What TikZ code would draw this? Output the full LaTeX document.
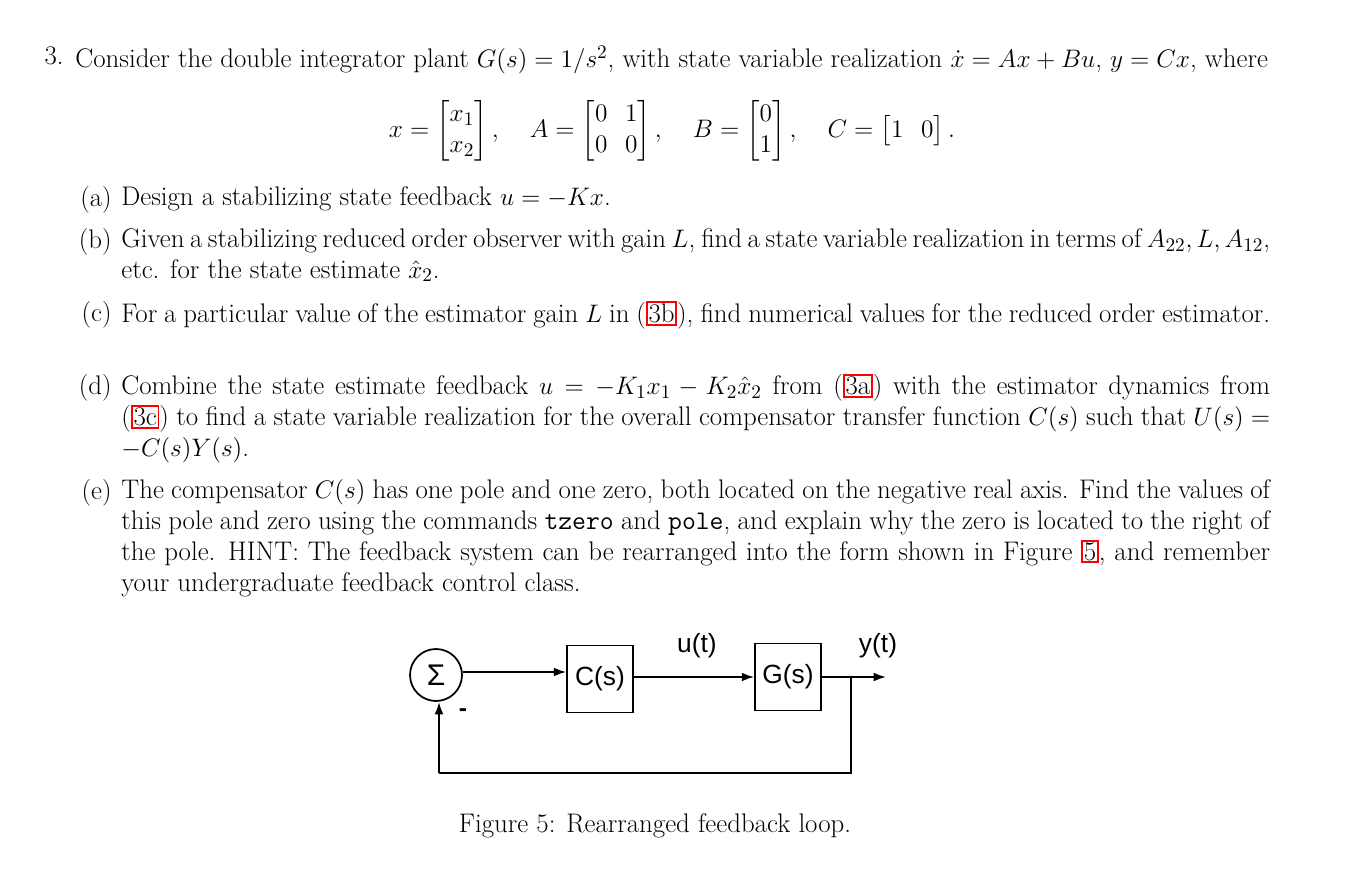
\documentclass[tikz,border=0pt]{standalone}
\usepackage{amsmath}
\usepackage{fontspec}
\usetikzlibrary{arrows.meta}
\newfontfamily\dsans{Liberation Sans}
\newcommand\rb[1]{{\setlength{\fboxsep}{0.5pt}\setlength{\fboxrule}{1pt}\fcolorbox{red}{white}{#1}}}
\begin{document}
\begin{tikzpicture}[x=0.02cm,y=-0.02cm,
  txt/.style={anchor=north west,inner sep=0,align=justify,font=\fontsize{15.3}{17.6}\selectfont},
  lab/.style={anchor=north east,inner sep=0,font=\fontsize{15.3}{17.6}\selectfont},
  blk/.style={draw,line width=1pt,minimum width=1.32cm,minimum height=1.34cm,font=\dsans\fontsize{15}{18}\selectfont,inner sep=0},
  arr/.style={line width=1pt,-{Latex[length=7pt,width=5pt]}},
  ln/.style={line width=1pt}]
\useasboundingbox (0,0) rectangle (1352,881);
\node[lab] (n3) at (64,46) {3.};
\node[txt,text width=23.9cm] (p0) at (75,46) {Consider the double integrator plant $G(s)=1/s^2$, with state variable realization $\dot x = Ax+Bu$, $y=Cx$, where};
\node[inner sep=0,font=\fontsize{15.3}{17.6}\selectfont] (mat) at (672,131) {$\displaystyle x=\begin{bmatrix}x_1\\x_2\end{bmatrix},\quad A=\begin{bmatrix}0&1\\0&0\end{bmatrix},\quad B=\begin{bmatrix}0\\1\end{bmatrix},\quad C=\begin{bmatrix}1&0\end{bmatrix}.$};
\node[lab] (la) at (112,186) {(a)};
\node[txt,text width=22.98cm] (ta) at (121,186) {Design a stabilizing state feedback $u=-Kx$.};
\node[lab] (lb) at (112,228) {(b)};
\node[txt,text width=22.98cm] (tb) at (121,228) {Given a stabilizing reduced order observer with gain $L$, find a state variable realization in terms of $A_{22},L,A_{12}$, etc. for the state estimate $\hat x_2$.};
\node[lab] (lc) at (112,301) {(c)};
\node[txt,text width=22.98cm] (tc) at (121,301) {For a particular value of the estimator gain $L$ in (\rb{3b}), find numerical values for the reduced order estimator.};
\node[lab] (ld) at (112,374) {(d)};
\node[txt,text width=22.98cm] (td) at (121,374) {Combine the state estimate feedback $u=-K_1x_1-K_2\hat x_2$ from (\rb{3a}) with the estimator dynamics from (\rb{3c}) to find a state variable realization for the overall compensator transfer function $C(s)$ such that $U(s)=-C(s)Y(s)$.};
\node[lab] (le) at (112,479) {(e)};
\node[txt,text width=22.98cm] (te) at (121,479) {The compensator $C(s)$ has one pole and one zero, both located on the negative real axis. Find the values of this pole and zero using the commands \texttt{tzero} and \texttt{pole}, and explain why the zero is located to the right of the pole. HINT: The feedback system can be rearranged into the form shown in Figure~\rb{5}, and remember your undergraduate feedback control class.};
% diagram
\node[draw,circle,line width=1pt,minimum size=1.04cm,inner sep=0,font=\dsans\fontsize{17}{18}\selectfont] (sum) at (436,675) {Σ};
\node[blk] (cs) at (600,679) {C(s)};
\node[blk] (gs) at (788,677) {G(s)};
\coordinate (o) at (886,677);
\coordinate (fb) at (851,677);
\coordinate (b1) at (851,773);
\coordinate (b2) at (439,773);
\draw[arr] (sum.east |- 0,672) -- (cs.west |- 0,672);
\draw[arr] (cs.east |- 0,677) -- (gs.west);
\draw[arr] (gs.east) -- (o);
\draw[ln] (fb) -- (b1) -- (b2);
\draw[arr] (b2) -- (439,702);
\node[font=\dsans\fontsize{15}{18}\selectfont] (ut) at (697,646) {u(t)};
\node[font=\dsans\fontsize{15}{18}\selectfont] (yt) at (878,646) {y(t)};
\node[font=\dsans\bfseries\fontsize{14}{16}\selectfont] (mn) at (463,713) {-};
\node[font=\fontsize{15.3}{17.6}\selectfont] (cap) at (655,826) {Figure 5: Rearranged feedback loop.};
\end{tikzpicture}
\end{document}
